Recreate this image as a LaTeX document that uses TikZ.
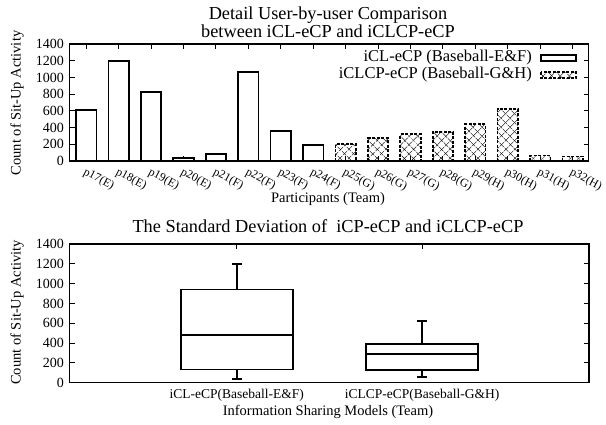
\documentclass[tikz,border=0pt]{standalone}
\usepackage{fontspec}
\setmainfont{Liberation Serif}
\usetikzlibrary{patterns.meta}
\begin{document}
\begin{tikzpicture}[x=1pt,y=-1pt,
  frame/.style={line width=1.3pt},
  tickmark/.style={line width=0.9pt},
  solidbar/.style={draw=black, fill=white, line width=1.8pt},
  hatchline/.style={draw=black, line width=1.8pt, dash pattern=on 3pt off 1.5pt},
  hatchA/.style={pattern={Lines[angle=45,distance=6.5pt,line width=0.7pt]}},
  hatchB/.style={pattern={Lines[angle=-45,distance=6.5pt,line width=0.7pt]}},
  boxline/.style={line width=1.8pt},
  ticklabel/.style={font=\fontsize{14}{16}\selectfont, inner sep=0pt},
  smalltick/.style={font=\fontsize{11.8}{13}\selectfont, inner sep=0pt},
  cattext/.style={font=\fontsize{13.5}{16}\selectfont, inner sep=0pt},
  axislabel/.style={font=\fontsize{14.5}{17}\selectfont, inner sep=0pt},
  titletext/.style={font=\fontsize{18.3}{21}\selectfont, inner sep=0pt},
  legendtext/.style={font=\fontsize{16.5}{19}\selectfont, inner sep=0pt, anchor=east},
]
\useasboundingbox (0,0) rectangle (606,424);

% ---------- upper chart: per-participant bars ----------
\node[titletext] (t1a) at (328,15) {Detail User-by-user Comparison};
\node[titletext] (t1b) at (328,31.5) {between iCL-eCP and iCLCP-eCP};

% y ticks and labels
\foreach \v [count=\k from 0] in {0,200,...,1400} {
  \pgfmathsetmacro\yy{161-\k*117/7}
  \draw[tickmark] (69.5,\yy) -- (74.5,\yy);
  \draw[tickmark] (588.5,\yy) -- (583.5,\yy);
  \node[ticklabel, anchor=east] (ya\k) at (64,\yy) {\v};
}

% x ticks and rotated labels
\foreach \lab [count=\i from 0] in {p17(E),p18(E),p19(E),p20(E),p21(F),p22(F),p23(F),p24(F),
                                     p25(G),p26(G),p27(G),p28(G),p29(H),p30(H),p31(H),p32(H)} {
  \pgfmathsetmacro\cx{86.2+32.43*\i}
  \draw[tickmark] (\cx,161) -- (\cx,156);
  \draw[tickmark] (\cx,44) -- (\cx,49);
  \node[smalltick, anchor=north west, rotate=-28] (xl\i) at (\cx+0.5,166.5) {\lab};
}

% bars, first team pair: solid outline
\foreach \v [count=\i from 0] in {610,1200,822,40,80,1065,363,188} {
  \pgfmathsetmacro\cx{86.2+32.43*\i}
  \pgfmathsetmacro\yt{161-\v*0.083571}
  \draw[solidbar] (\cx-10.2,161) rectangle (\cx+10.2,\yt);
}
% bars, second team pair: dashed outline with cross hatching
\foreach \v [count=\i from 8] in {200,272,319,350,439,622,65,55} {
  \pgfmathsetmacro\cx{86.2+32.43*\i}
  \pgfmathsetmacro\yt{161-\v*0.083571}
  \path[hatchA] (\cx-10.2,161) rectangle (\cx+10.2,\yt);
  \path[hatchB] (\cx-10.2,161) rectangle (\cx+10.2,\yt);
  \draw[hatchline] (\cx-10.2,161) rectangle (\cx+10.2,\yt);
}

\draw[frame] (69.5,44) rectangle (588.5,161);

% legend
\node[legendtext] (lg1) at (532,58) {iCL-eCP (Baseball-E\&F)};
\draw[solidbar] (541,55) rectangle (576,61);
\node[legendtext] (lg2) at (532,75) {iCLCP-eCP (Baseball-G\&H)};
\path[hatchA] (541,72) rectangle (576,78);
\path[hatchB] (541,72) rectangle (576,78);
\draw[hatchline] (541,72) rectangle (576,78);

\node[axislabel, rotate=90] (yl1) at (17,103) {Count of Sit-Up Activity};
\node[axislabel] (xl1) at (328,199) {Participants (Team)};

% ---------- lower chart: box plots ----------
\node[titletext] (t2) at (328,226.5) {The Standard Deviation of~ iCP-eCP and iCLCP-eCP};

\foreach \v [count=\k from 0] in {0,200,...,1400} {
  \pgfmathsetmacro\yy{382.7-\k*138.7/7}
  \draw[tickmark] (69.5,\yy) -- (74.5,\yy);
  \draw[tickmark] (589,\yy) -- (584,\yy);
  \node[ticklabel, anchor=east] (yb\k) at (64,\yy) {\v};
}
\draw[tickmark] (236.8,244) -- (236.8,249);
\draw[tickmark] (422,244) -- (422,249);

% box: centre, half width, min, q1, median, q3, max
\foreach \c/\w/\mn/\qa/\md/\qb/\mx in {236.8/55.8/40/134/482/940/1200, 422/55.8/55/130/292/390/622} {
  \pgfmathsetmacro\ymn{382.7-\mn*0.099071}
  \pgfmathsetmacro\yqa{382.7-\qa*0.099071}
  \pgfmathsetmacro\ymd{382.7-\md*0.099071}
  \pgfmathsetmacro\yqb{382.7-\qb*0.099071}
  \pgfmathsetmacro\ymx{382.7-\mx*0.099071}
  \draw[boxline] (\c,\yqa) -- (\c,\ymn) (\c-5,\ymn) -- (\c+5,\ymn);
  \draw[boxline] (\c,\yqb) -- (\c,\ymx) (\c-5,\ymx) -- (\c+5,\ymx);
  \draw[boxline] (\c-\w,\yqa) rectangle (\c+\w,\yqb);
  \draw[boxline] (\c-\w,\ymd) -- (\c+\w,\ymd);
}

\draw[frame] (69.5,244) rectangle (589,382.7);

\node[cattext] (c1) at (236.8,395) {iCL-eCP(Baseball-E\&F)};
\node[cattext] (c2) at (422,395) {iCLCP-eCP(Baseball-G\&H)};
\node[axislabel] (xl2) at (328,411.5) {Information Sharing Models (Team)};
\node[axislabel, rotate=90] (yl2) at (17,312.5) {Count of Sit-Up Activity};
\end{tikzpicture}
\end{document}
